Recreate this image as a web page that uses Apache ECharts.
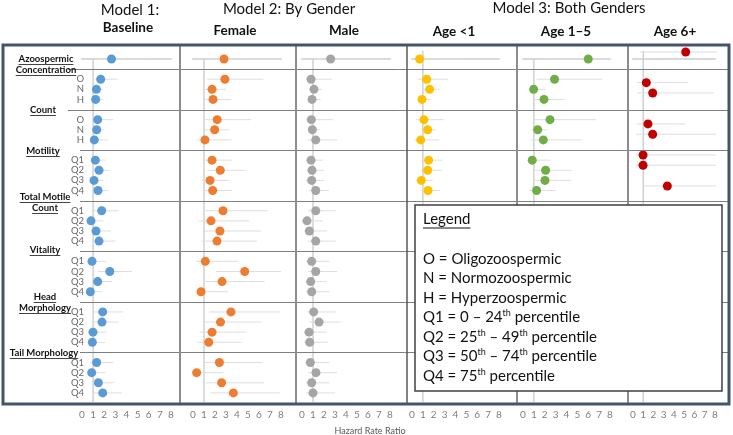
<!DOCTYPE html>
<html>
<head>
<meta charset="utf-8">
<script src="https://cdn.jsdelivr.net/npm/echarts@6/dist/echarts.min.js"></script>
<style>
  html, body {margin: 0; padding: 0; background: #fff;}
  #chart {width: 733px; height: 435px;}
</style>
</head>
<body>
<div id="chart"></div>
<script>
// row slots on the shared vertical scale (gaps leave room for group headers)
const rowSlots = [0, 2, 3, 4, 6, 7, 8, 10, 11, 12, 13, 15, 16, 17, 18, 20, 21, 22, 23, 25, 26, 27, 28, 30, 31, 32, 33];
const rowLabels = ['', 'O', 'N', 'H', 'O', 'N', 'H', 'Q1', 'Q2', 'Q3', 'Q4', 'Q1', 'Q2', 'Q3', 'Q4',
  'Q1', 'Q2', 'Q3', 'Q4', 'Q1', 'Q2', 'Q3', 'Q4', 'Q1', 'Q2', 'Q3', 'Q4'];
const groupSplits = [1, 5, 9, 14, 19, 24, 29];
const groupLabels = [
  ['Azoospermic', 'Concentration'], ['Count'], ['Motility'], ['Total Motile', 'Count'],
  ['Vitality'], ['Head', 'Morphology'], ['Tail Morphology']
];

// Model 1: baseline
const baselineHr = [2.65, 1.68, 1.3, 1.23, 1.41, 1.32, 1.11, 1.2, 1.53, 1.08, 1.44, 1.77, 0.81, 1.26, 1.53,
  0.9, 2.5, 1.41, 0.75, 1.86, 1.8, 0.99, 0.93, 1.32, 0.87, 1.47, 1.86];
const baselineLo = [1.26, 1.17, 0.96, 0.9, 0.99, 0.99, 0.81, 0.9, 1.08, 0.72, 0.99, 0.99, 0.54, 0.9, 0.99,
  0.72, 1.44, 0.9, 0.45, 0.99, 0.9, 0.54, 0.54, 0.72, 0.54, 0.9, 0.99];
const baselineHi = [5.8, 3.2, 1.9, 1.9, 2.8, 2.0, 2.3, 2.1, 2.5, 1.9, 2.3, 3.3, 1.9, 2.6, 3.0,
  2.2, 4.5, 2.7, 1.8, 3.7, 3.3, 2.2, 2.1, 2.8, 2.1, 2.9, 3.6];

// Model 2: female / male
const femaleHr = [2.82, 2.9, 1.73, 1.82, 2.2, 1.97, 1.09, 1.73, 2.48, 1.55, 1.79, 2.73, 1.64, 2.45, 2.18,
  1.12, 4.7, 2.64, 0.73, 3.45, 2.5, 1.73, 1.43, 2.4, 0.33, 2.6, 3.67];
const femaleLo = [1.0, 1.3, 1.1, 1.1, 0.9, 1.1, 0.33, 0.9, 1.3, 0.8, 0.9, 1.1, 0.55, 1.1, 0.8,
  0.27, 2.1, 1.1, 0.3, 1.45, 1.0, 0.6, 0.4, 1.0, 0.0, 1.2, 1.6];
const femaleHi = [7.9, 6.4, 3.0, 3.5, 5.3, 3.3, 3.5, 3.5, 4.8, 3.3, 3.5, 6.8, 5.1, 6.2, 5.8,
  4.1, 8.0, 6.5, 3.2, 7.9, 6.2, 4.8, 4.4, 6.3, 2.7, 6.45, 7.9];
const maleHr = [2.6, 0.82, 1.09, 0.91, 0.85, 0.94, 1.25, 0.82, 0.91, 0.88, 1.25, 1.25, 0.45, 0.67, 1.25,
  0.88, 1.25, 0.79, 0.88, 1.06, 1.55, 0.64, 0.7, 0.76, 1.27, 0.88, 1.0];
const maleLo = [1.0, 0.36, 0.64, 0.55, 0.36, 0.55, 0.45, 0.36, 0.45, 0.36, 0.64, 0.55, 0.0, 0.18, 0.55,
  0.36, 0.55, 0.36, 0.36, 0.45, 0.64, 0.18, 0.18, 0.27, 0.55, 0.36, 0.36];
const maleHi = [7.15, 2.7, 1.8, 1.7, 2.8, 1.6, 3.2, 1.9, 2.0, 2.0, 2.45, 3.06, 1.9, 2.25, 3.06,
  2.5, 3.2, 2.25, 2.5, 3.06, 3.55, 2.2, 2.35, 2.5, 3.2, 2.5, 3.0];

// Model 3: age groups (only the rows visible above the legend)
const age1Hr = [0.7, 1.35, 1.62, 0.92, 1.1, 1.44, 0.8, 1.53, 1.44, 0.86, 1.47];
const age1Lo = [0.18, 0.55, 1.0, 0.55, 0.37, 0.83, 0.18, 0.83, 0.83, 0.37, 0.83];
const age1Hi = [4.7, 3.3, 2.5, 1.7, 2.9, 2.2, 2.5, 2.8, 2.75, 1.9, 2.6];
const age5Hr = [6.0, 2.9, 0.98, 1.93, 2.48, 1.35, 1.87, 0.85, 2.08, 2.02, 1.25];
const age5Lo = [2.3, 1.25, 0.64, 1.0, 1.0, 0.73, 0.73, 0.46, 1.1, 1.1, 0.55];
const age5Hi = [8.1, 7.3, 2.1, 3.85, 6.7, 2.25, 5.4, 2.55, 4.5, 4.45, 2.94];
const age6Slots = [-0.69, 2.34, 3.36, 6.42, 7.44, 9.49, 10.5, 12.55];
const age6Hr = [5.14, 1.3, 1.92, 1.46, 1.92, 0.98, 0.98, 3.35];
const age6Lo = [0.7, 0.36, 0.4, 0.4, 0.3, 0.3, 0.3, 1.0];
const age6Hi = [8.2, 5.4, 7.9, 5.1, 8.1, 8.1, 8.1, 8.1];

const legendLines = [
  'O = Oligozoospermic',
  'N = Normozoospermic',
  'H = Hyperzoospermic',
  'Q1 = 0 \u2013 24{s|th} percentile',
  'Q2 = 25{s|th} \u2013 49{s|th} percentile',
  'Q3 = 50{s|th} \u2013 74{s|th} percentile',
  'Q4 = 75{s|th} percentile'
];

const FONT = 'Lato, "Open Sans", sans-serif';
const Y_MIN = -1.38;
const Y_MAX = 33.9;
const TOP = 45;
const HEIGHT = 357;

const panels = [
  {left: 82, width: 89, color: '#5b9bd5', slots: rowSlots, hr: baselineHr, lo: baselineLo, hi: baselineHi, refTop: -0.1},
  {left: 193, width: 88, color: '#ed7d31', slots: rowSlots, hr: femaleHr, lo: femaleLo, hi: femaleHi, refTop: -0.1},
  {left: 302, width: 88, color: '#a5a5a5', slots: rowSlots, hr: maleHr, lo: maleLo, hi: maleHi, refTop: -0.1},
  {left: 412, width: 87, color: '#ffc000', slots: rowSlots, hr: age1Hr, lo: age1Lo, hi: age1Hi, refTop: -0.8},
  {left: 523, width: 87, color: '#70ad47', slots: rowSlots, hr: age5Hr, lo: age5Lo, hi: age5Hi, refTop: 0},
  {left: 633, width: 82, color: '#c00000', slots: age6Slots, hr: age6Hr, lo: age6Lo, hi: age6Hi, refTop: -0.8}
];

const titles = [
  {text: 'Model 1:', x: 130, y: 10, bold: false, size: 15},
  {text: 'Baseline', x: 128, y: 28, bold: true, size: 13.5},
  {text: 'Model 2: By Gender', x: 289, y: 9, bold: false, size: 15},
  {text: 'Female', x: 235, y: 31, bold: true, size: 13.5},
  {text: 'Male', x: 344, y: 31, bold: true, size: 13.5},
  {text: 'Model 3: Both Genders', x: 569, y: 8, bold: false, size: 15},
  {text: 'Age <1', x: 454, y: 32, bold: true, size: 13.5},
  {text: 'Age 1\u20135', x: 566, y: 32, bold: true, size: 13.5},
  {text: 'Age 6+', x: 675, y: 32, bold: true, size: 13.5}
];
const groupLabelPos = [[46, 59], [43, 110], [43, 151], [45, 197], [45, 250], [45, 297], [44, 353]];

const measureCtx = document.createElement('canvas').getContext('2d');
const textWidth = (text, font) => {
  measureCtx.font = font;
  return measureCtx.measureText(text).width;
};

const chart = echarts.init(document.getElementById('chart'), null, {renderer: 'canvas'});

const grids = [];
const xAxes = [];
const yAxes = [];
const series = [];

panels.forEach((p, i) => {
  grids.push({left: p.left, width: p.width, top: TOP, height: HEIGHT});
  xAxes.push({
    gridIndex: i, type: 'value', min: 0, max: 8, interval: 1,
    splitLine: {show: false}, axisTick: {show: false},
    axisLine: {show: true, lineStyle: {color: '#d9d9d9', width: 2}},
    axisLabel: {color: '#7f7f7f', fontSize: 10, fontFamily: FONT, margin: 8}
  });
  yAxes.push({gridIndex: i, type: 'value', inverse: true, min: Y_MIN, max: Y_MAX, show: false});

  // reference line at HR = 1
  series.push({
    type: 'line', xAxisIndex: i, yAxisIndex: i, silent: true, symbol: 'none',
    lineStyle: {color: '#d0d0d0', width: 1.5},
    data: [[1, p.refTop], [1, Y_MAX]], z: 1
  });
  // confidence intervals
  series.push({
    type: 'custom', xAxisIndex: i, yAxisIndex: i, silent: true, clip: false,
    encode: {x: [1, 2], y: 0},
    data: p.slots.map((s, k) => [s, p.lo[k], p.hi[k]]),
    renderItem: (params, api) => {
      const y = api.value(0);
      const a = api.coord([api.value(1), y]);
      const b = api.coord([api.value(2), y]);
      return {
        type: 'line',
        shape: {x1: a[0], y1: a[1], x2: b[0], y2: b[1]},
        style: {stroke: '#dedede', lineWidth: 1}
      };
    },
    z: 2
  });
  // point estimates
  series.push({
    type: 'scatter', xAxisIndex: i, yAxisIndex: i, symbolSize: 9,
    itemStyle: {color: p.color, opacity: 1},
    data: p.slots.map((s, k) => [p.hr[k], s]), z: 3
  });
});

// row label strip on the left
const labelGrid = panels.length;
grids.push({left: 0, width: 86, top: TOP, height: HEIGHT});
xAxes.push({gridIndex: labelGrid, type: 'value', min: 0, max: 1, show: false});
yAxes.push({gridIndex: labelGrid, type: 'value', inverse: true, min: Y_MIN, max: Y_MAX, show: false});
series.push({
  type: 'scatter', xAxisIndex: labelGrid, yAxisIndex: labelGrid, symbolSize: 0, silent: true,
  data: rowSlots.map((s, k) => ({value: [1, s], label: {formatter: rowLabels[k]}})),
  label: {show: true, position: 'left', distance: 2, color: '#404040', fontSize: 9.5, fontFamily: FONT}
});

chart.setOption({
  animation: false,
  backgroundColor: '#fff',
  grid: grids,
  xAxis: xAxes,
  yAxis: yAxes,
  series: series
});

// decorations: frame, separators, headers, legend box
const toY = (slot) => chart.convertToPixel({yAxisIndex: 0}, slot);
const graphics = [];

groupSplits.forEach((s, k) => {
  const y = Math.round(toY(s)) + 0.5;
  graphics.push({
    type: 'line', shape: {x1: k < 2 ? 68 : 80, y1: y, x2: 729, y2: y},
    style: {stroke: '#7f7f7f', lineWidth: 1}, z: 5
  });
});

[180, 296, 407, 517, 628].forEach((x) => {
  graphics.push({
    type: 'line', shape: {x1: x, y1: TOP, x2: x, y2: 404},
    style: {stroke: x === 407 ? '#595959' : '#8c8c8c', lineWidth: x === 407 ? 1.5 : 2}, z: 5
  });
});

titles.forEach((t) => {
  graphics.push({
    type: 'text', x: t.x, y: t.y,
    style: {
      text: t.text, align: 'center', verticalAlign: 'middle', fill: '#111',
      font: (t.bold ? 'bold ' : '') + t.size + 'px ' + FONT
    }
  });
});

const groupFont = 'bold 9.5px ' + FONT;
groupLabels.forEach((lines, k) => {
  const [cx, cy] = groupLabelPos[k];
  lines.forEach((line, j) => {
    const y = cy + j * 11;
    const w = textWidth(line, groupFont);
    graphics.push({
      type: 'text', x: cx, y: y,
      style: {text: line, align: 'center', verticalAlign: 'middle', fill: '#111', font: groupFont}, z: 6
    });
    graphics.push({
      type: 'line', shape: {x1: cx - w / 2, y1: y + 5.5, x2: cx + w / 2, y2: y + 5.5},
      style: {stroke: '#111', lineWidth: 0.8}, z: 6
    });
  });
});

graphics.push({
  type: 'text', x: 370, y: 431,
  style: {text: 'Hazard Rate Ratio', align: 'center', verticalAlign: 'middle', fill: '#595959', font: '9px ' + FONT}
});

// legend box
const legendFont = '15px ' + FONT;
graphics.push({
  type: 'rect', shape: {x: 415, y: 205, width: 307, height: 186},
  style: {fill: '#fff', stroke: '#404040', lineWidth: 1.5}, z: 20
});
graphics.push({
  type: 'text', x: 423, y: 219,
  style: {text: 'Legend', verticalAlign: 'middle', fill: '#111', font: legendFont}, z: 21
});
graphics.push({
  type: 'line', shape: {x1: 423, y1: 228, x2: 423 + textWidth('Legend', legendFont), y2: 228},
  style: {stroke: '#111', lineWidth: 1}, z: 21
});
legendLines.forEach((line, k) => {
  graphics.push({
    type: 'text', x: 423, y: 259 + k * 19.5,
    style: {
      text: line, verticalAlign: 'middle', fill: '#111', font: legendFont,
      rich: {s: {fontSize: 9, fontFamily: FONT, verticalAlign: 'top', padding: [0, 0, 8, 0], fill: '#111'}}
    },
    z: 21
  });
});

// outer frame
graphics.push({
  type: 'rect', shape: {x: 3, y: TOP, width: 726, height: 359},
  style: {fill: 'none', stroke: '#44546a', lineWidth: 3}, z: 30
});

chart.setOption({graphic: graphics});
</script>
</body>
</html>
